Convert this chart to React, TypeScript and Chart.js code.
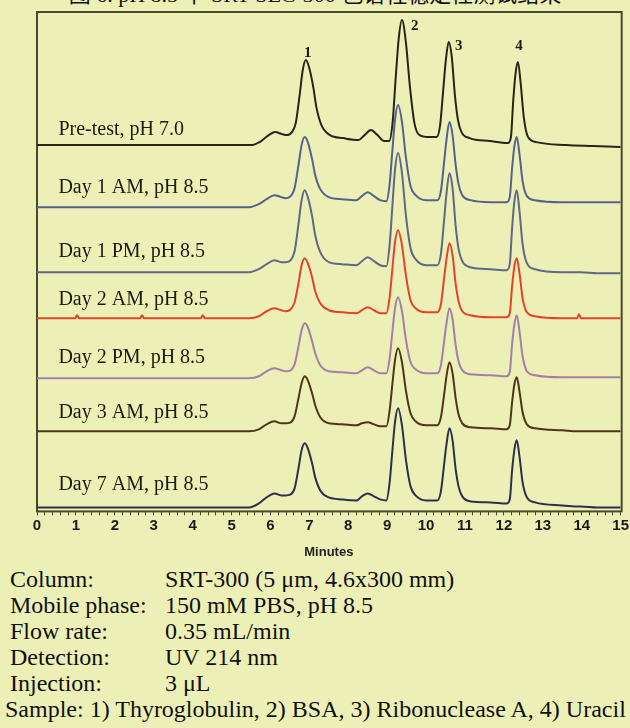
import { useEffect, useRef } from "react";
import { Chart, registerables } from "chart.js";

Chart.register(...registerables);

// Retention-time grid (min) of the pH 8.5 injections
const RUN_TIMES = [
  0, 0.98, 1.03, 1.08, 2.0, 2.65, 2.7, 2.75, 3.4, 4.21, 4.26, 4.31, 5.0, 5.45,
  5.7, 5.9, 6.1, 6.28,
  6.39, 6.52, 6.62, 6.72, 6.8, 6.88, 6.96, 7.07, 7.15, 7.28, 7.5, 7.84, 8.21,
  8.35, 8.5, 8.66, 8.82,
  8.98, 9.06, 9.13, 9.2, 9.28, 9.38, 9.48, 9.6, 9.73,
  10.0, 10.29, 10.38, 10.46, 10.52, 10.6, 10.68, 10.76, 10.84, 10.93, 11.14,
  11.66, 12.07, 12.15, 12.21, 12.27, 12.33, 12.4, 12.48, 12.59, 12.8,
  13.5, 13.88, 13.93, 13.98, 14.4, 15,
];

// Retention-time grid (min) of the pH 7.0 pre-test injection
const PRETEST_TIMES = [
  0, 1.5, 3.0, 4.5, 5.5,
  5.72, 5.92, 6.12, 6.3,
  6.42, 6.55, 6.65, 6.75, 6.83, 6.91, 6.99, 7.1, 7.18, 7.31, 7.53, 7.87, 8.25,
  8.42, 8.58, 8.75, 8.92,
  9.05, 9.14, 9.22, 9.3, 9.38, 9.48, 9.58, 9.7, 9.83,
  10.1, 10.27, 10.36, 10.44, 10.5, 10.58, 10.66, 10.74, 10.82, 10.91, 11.12,
  11.64, 12.1, 12.18, 12.24, 12.3, 12.36, 12.43, 12.51, 12.62, 12.83,
  13.6, 14.3, 15,
];

// UV 214 nm response above each run's own baseline (mAU)
const PRETEST = [
  0, 0, 0, 0, 0,
  3, 9, 13, 11,
  10, 13, 22, 50, 75, 85, 78, 58, 38, 20, 10, 7, 5,
  10, 15, 10, 4,
  4, 23, 68, 108, 125, 103, 60, 22, 10,
  8, 8, 20, 55, 82, 103, 88, 50, 25, 13, 7,
  4, 2, 8, 45, 72, 83, 62, 28, 8, 3,
  0, -1, -2,
];
const DAY1_AM = [
  0, 0, 0, 0, 0, 0, 0, 0, 0, 0, 0, 0, 0, 0,
  3, 8, 12, 10,
  9, 11, 19, 42, 62, 70, 65, 48, 32, 18, 10, 8, 7,
  11, 15, 11, 7,
  6, 22, 55, 87, 102, 85, 50, 21, 12,
  7, 7, 16, 44, 66, 85, 72, 42, 22, 12, 7,
  5, 5, 10, 39, 61, 70, 53, 26, 11, 7,
  5, 5, 5, 5, 5, 5,
];
const DAY1_PM = [
  0, 0, 0, 0, 0, 0, 0, 0, 0, 0, 0, 0, 0, 0,
  3, 8, 12, 10,
  10, 12, 21, 48, 72, 82, 75, 56, 37, 20, 10, 8, 7,
  11, 15, 11, 7,
  6, 26, 64, 102, 119, 99, 57, 24, 13,
  7, 7, 18, 51, 77, 99, 84, 46, 22, 11, 5,
  3, 2, 8, 44, 71, 82, 61, 28, 9, 3,
  0, 0, 0, 0, -1, -1,
];
const DAY2_AM = [
  0, 0, 3, 0, 0, 0, 3, 0, 0, 0, 3, 0, 0, 0,
  2, 7, 10, 8,
  7, 9, 16, 35, 53, 60, 55, 41, 27, 15, 8, 6, 5,
  8, 11, 8, 5,
  5, 20, 48, 76, 88, 73, 43, 18, 10,
  6, 6, 14, 39, 58, 75, 63, 34, 16, 7, 3,
  1, 1, 5, 32, 52, 60, 45, 20, 6, 2,
  0, 0, 4, 0, 0, 0,
];
const DAY2_PM = [
  0, 0, 0, 0, 0, 0, 0, 0, 0, 0, 0, 0, 0, 0,
  2, 7, 10, 8,
  7, 8, 14, 32, 48, 55, 51, 37, 25, 13, 7, 6, 5,
  8, 11, 8, 5,
  5, 19, 45, 70, 81, 67, 39, 16, 9,
  5, 5, 13, 36, 54, 70, 59, 33, 16, 8, 4,
  3, 2, 6, 34, 54, 63, 47, 22, 7, 3,
  1, 1, 1, 1, 1, 1,
];
const DAY3_AM = [
  0, 0, 0, 0, 0, 0, 0, 0, 0, 0, 0, 0, 0, 0,
  2, 7, 10, 8,
  8, 9, 15, 33, 48, 55, 51, 38, 26, 14, 8, 7, 6,
  8, 9, 7, 5,
  5, 20, 46, 71, 83, 69, 41, 18, 10,
  6, 6, 14, 36, 54, 69, 58, 33, 16, 8, 4,
  3, 2, 6, 29, 47, 54, 40, 19, 7, 3,
  1, 0, 0, 0, 0, 0,
];
const DAY7_AM = [
  0, 0, 0, 0, 0, 0, 0, 0, 0, 0, 0, 0, 0, 0,
  4, 10, 14, 12,
  12, 13, 19, 39, 57, 64, 59, 44, 30, 17, 10, 8, 7,
  11, 14, 11, 8,
  7, 24, 55, 85, 99, 82, 48, 21, 12,
  7, 7, 16, 42, 62, 79, 67, 38, 20, 11, 6,
  5, 4, 8, 37, 58, 67, 51, 25, 10, 5,
  2, 1, 1, 1, 0, 0,
];

const TRACE_NAMES = [
  "Pre-test, pH 7.0",
  "Day 1 AM, pH 8.5",
  "Day 1 PM, pH 8.5",
  "Day 2 AM, pH 8.5",
  "Day 2 PM, pH 8.5",
  "Day 3 AM, pH 8.5",
  "Day 7 AM, pH 8.5",
];
const TRACE_VALUES = [PRETEST, DAY1_AM, DAY1_PM, DAY2_AM, DAY2_PM, DAY3_AM, DAY7_AM];
// vertical stacking offset of each run (mAU)
const TRACE_OFFSETS = [366, 304, 239, 193, 133, 80, 4];

const PEAK_NUMBERS = ["1", "2", "3", "4"];
const PEAK_TIMES = [6.91, 9.38, 10.58, 12.36];

const TITLE = "图 6. pH 8.5 下 SRT SEC-300 色谱柱稳定性测试结果";
const CONDITIONS: [string, string][] = [
  ["Column:", "SRT-300 (5 μm, 4.6x300 mm)"],
  ["Mobile phase:", "150 mM PBS, pH 8.5"],
  ["Flow rate:", "0.35 mL/min"],
  ["Detection:", "UV 214 nm"],
  ["Injection:", "3 μL"],
];
const SAMPLE_LINE = "Sample: 1) Thyroglobulin, 2) BSA, 3) Ribonuclease A, 4) Uracil";

const BG = "rgb(237, 240, 182)";
const FRAME = "#4a4a2a";
const TRACE_COLORS = ["#25251a", "#56608e", "#5f6884", "#e3432b", "#a27fa8", "#4c3519", "#2c2e4c"];
const LABEL_RAISE = [10, 14, 15, 13, 15, 13, 17];
const LABEL_TIME = 0.55;
// [dx, dy, align] of the peak numbers around the pre-test apexes
const PEAK_LABEL_SHIFT: [number, number, CanvasTextAlign][] = [
  [2, -3, "center"],
  [9, 10, "left"],
  [10, 8, "center"],
  [1, -12, "center"],
];

const decorations = {
  id: "chromDecor",
  beforeDatasetsDraw(chart: any) {
    const { ctx, chartArea: a } = chart;
    ctx.save();
    ctx.strokeStyle = FRAME;
    ctx.lineWidth = 2;
    ctx.strokeRect(a.left, a.top, a.right - a.left + 1, a.bottom - a.top);
    ctx.restore();
  },
  afterDatasetsDraw(chart: any) {
    const { ctx } = chart;
    const xs = chart.scales.x;
    const ys = chart.scales.y;
    ctx.save();
    ctx.fillStyle = "#1a1a0e";
    ctx.font = '20px "Liberation Serif"';
    ctx.textAlign = "left";
    ctx.textBaseline = "alphabetic";
    TRACE_NAMES.forEach((name, i) => {
      ctx.fillText(
        name,
        xs.getPixelForValue(LABEL_TIME),
        ys.getPixelForValue(TRACE_OFFSETS[i]) - LABEL_RAISE[i]
      );
    });
    ctx.font = 'bold 15px "Liberation Serif"';
    PEAK_NUMBERS.forEach((num, i) => {
      const k = PRETEST_TIMES.indexOf(PEAK_TIMES[i]);
      const px = xs.getPixelForValue(PEAK_TIMES[i]);
      const py = ys.getPixelForValue(TRACE_OFFSETS[0] + PRETEST[k]);
      const [dx, dy, align] = PEAK_LABEL_SHIFT[i];
      ctx.textAlign = align;
      ctx.fillText(num, px + dx, py + dy);
    });
    ctx.restore();
  },
};

export default function App() {
  const ref = useRef<HTMLCanvasElement>(null);

  useEffect(() => {
    if (!ref.current) return;
    const datasets = TRACE_VALUES.map((vals, i) => {
      const times = i === 0 ? PRETEST_TIMES : RUN_TIMES;
      return {
        label: TRACE_NAMES[i],
        data: times.map((t, k) => ({ x: t, y: TRACE_OFFSETS[i] + vals[k] })),
        borderColor: TRACE_COLORS[i],
        borderWidth: 2,
        pointRadius: 0,
        fill: false,
        cubicInterpolationMode: "monotone" as const,
      };
    });
    const chart = new Chart(ref.current, {
      type: "line",
      data: { datasets },
      options: {
        animation: false,
        responsive: false,
        maintainAspectRatio: false,
        layout: { padding: { left: 37, right: 8, top: 12, bottom: 0 } },
        plugins: {
          legend: { display: false },
          tooltip: { enabled: false },
        },
        scales: {
          x: {
            type: "linear",
            min: 0,
            max: 15,
            border: { display: false },
            grid: {
              display: true,
              drawOnChartArea: false,
              drawTicks: true,
              tickLength: 4,
              color: FRAME,
              lineWidth: 1,
            },
            ticks: {
              stepSize: 0.2,
              maxTicksLimit: 100,
              autoSkip: false,
              maxRotation: 0,
              padding: 1,
              color: "#1a1a1a",
              font: { family: '"Liberation Sans", Arial, sans-serif', size: 15, weight: "bold" },
              callback: (v: any) => {
                const n = Number(v);
                return Math.abs(n - Math.round(n)) < 1e-6 ? String(Math.round(n)) : "";
              },
            },
            title: {
              display: true,
              text: "Minutes",
              color: "#222",
              font: { family: '"Liberation Sans", Arial, sans-serif', size: 13, weight: "bold" },
              padding: { top: 9, bottom: 0 },
            },
          },
          y: {
            type: "linear",
            display: false,
            min: 0,
            max: 499,
          },
        },
      },
      plugins: [decorations],
    });
    return () => chart.destroy();
  }, []);

  return (
    <div
      style={{
        position: "fixed",
        left: 0,
        top: 0,
        width: 630,
        height: 728,
        background: BG,
        overflow: "hidden",
      }}
    >
      <div
        style={{
          position: "absolute",
          left: 0,
          top: -16,
          width: 630,
          textAlign: "center",
          fontFamily: '"Liberation Serif", "Noto Sans CJK SC", serif',
          fontSize: 22,
          lineHeight: "22px",
          color: "#111",
          whiteSpace: "nowrap",
        }}
      >
        {TITLE}
      </div>
      <canvas
        ref={ref}
        width={630}
        height={560}
        style={{ position: "absolute", left: 0, top: 0, width: 630, height: 560 }}
      />
      <div
        style={{
          position: "absolute",
          left: 0,
          top: 566,
          width: 700,
          fontFamily: '"Liberation Serif", "Times New Roman", serif',
          fontSize: 24,
          lineHeight: "26px",
          color: "#101010",
          whiteSpace: "nowrap",
        }}
      >
        {CONDITIONS.map(([k, v]) => (
          <div key={k} style={{ position: "relative", height: 26 }}>
            <span style={{ position: "absolute", left: 10 }}>{k}</span>
            <span style={{ position: "absolute", left: 165 }}>{v}</span>
          </div>
        ))}
        <div style={{ paddingLeft: 5 }}>{SAMPLE_LINE}</div>
      </div>
    </div>
  );
}
